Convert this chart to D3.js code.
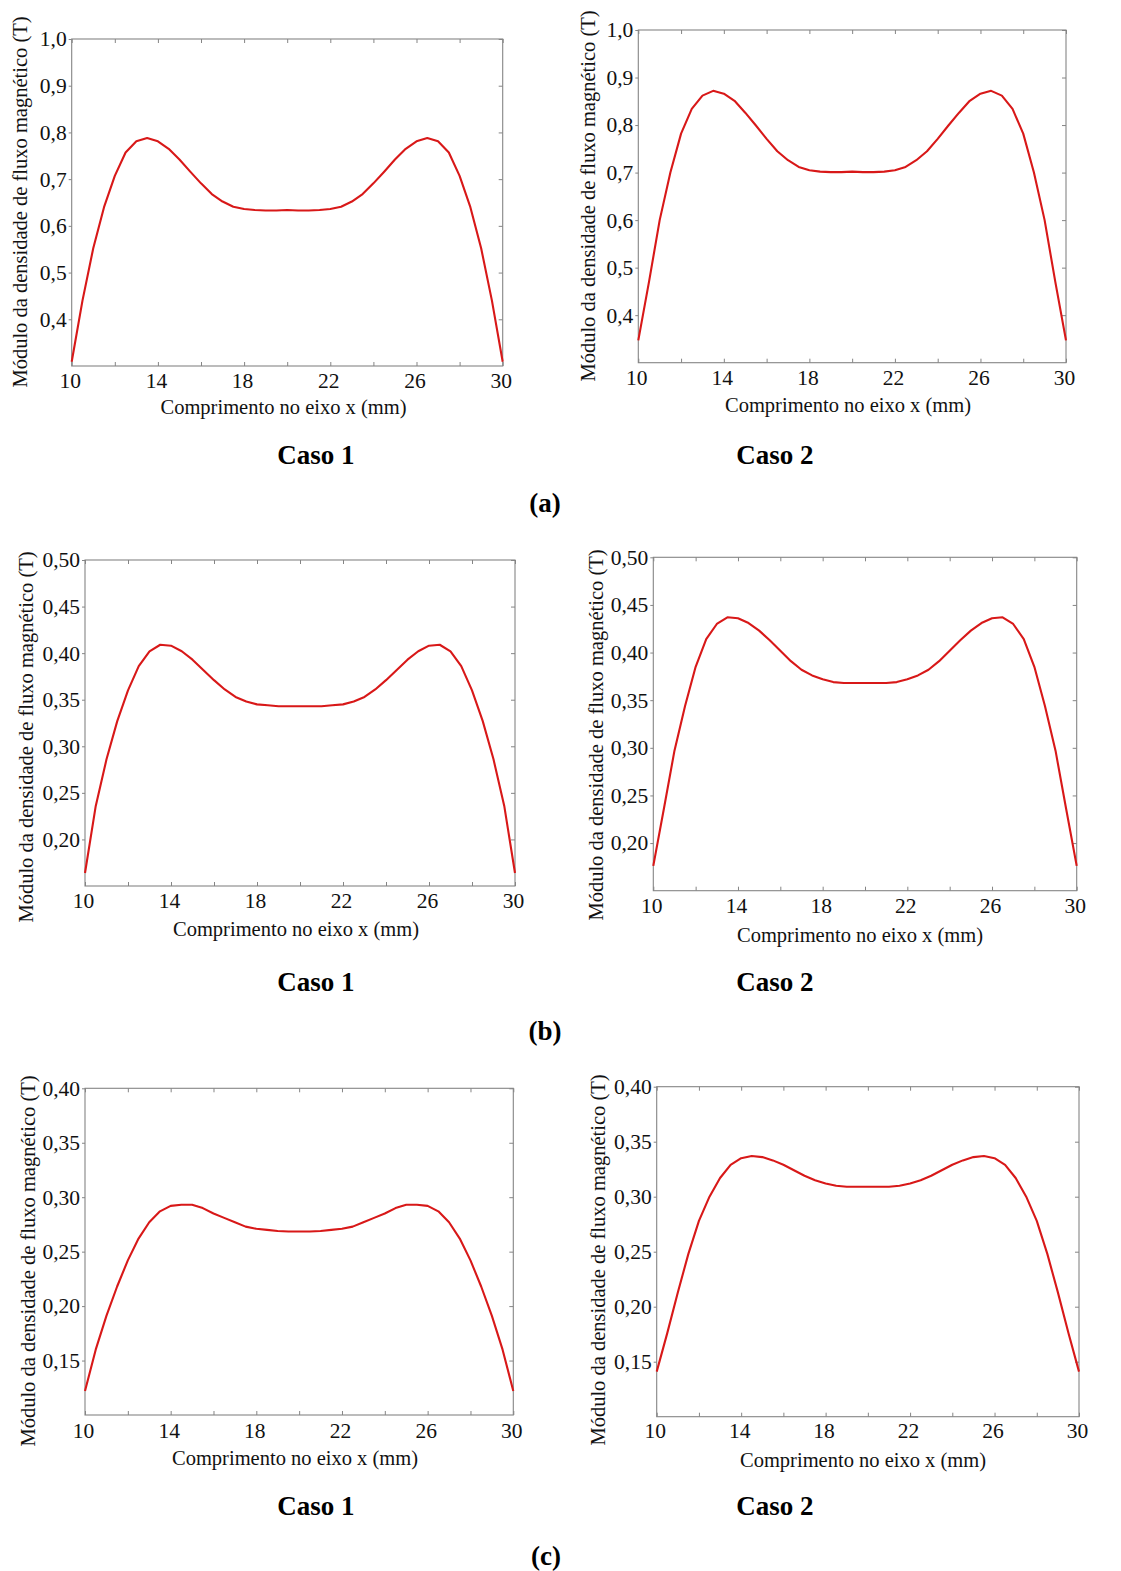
<!DOCTYPE html>
<html>
<head>
<meta charset="utf-8">
<script src="https://cdn.jsdelivr.net/npm/d3@7"></script>
<style>
  html, body { margin: 0; padding: 0; background: #fff; }
  svg { display: block; }
</style>
</head>
<body>
<svg id="fig" width="1121" height="1571"></svg>
<script>
// Position along the x axis (mm) where |B| was sampled
const positionMm = [10, 10.5, 11, 11.5, 12, 12.5, 13, 13.5, 14, 14.5, 15, 15.5, 16, 16.5, 17, 17.5, 18, 18.5, 19, 19.5,
  20, 20.5, 21, 21.5, 22, 22.5, 23, 23.5, 24, 24.5, 25, 25.5, 26, 26.5, 27, 27.5, 28, 28.5, 29, 29.5, 30];

// Magnetic flux density magnitude (T) — row (a)
const fluxA1 = [0.309, 0.440, 0.552, 0.640, 0.707, 0.757, 0.781, 0.788, 0.781, 0.765, 0.742, 0.716, 0.691, 0.668, 0.652, 0.641, 0.636, 0.634, 0.633, 0.633,
  0.634, 0.633, 0.633, 0.634, 0.636, 0.641, 0.652, 0.668, 0.691, 0.716, 0.742, 0.765, 0.781, 0.788, 0.781, 0.757, 0.707, 0.640, 0.552, 0.440, 0.309];
const fluxA2 = [0.347, 0.470, 0.600, 0.700, 0.782, 0.834, 0.862, 0.872, 0.866, 0.851, 0.826, 0.799, 0.771, 0.745, 0.726, 0.712, 0.705, 0.702, 0.701, 0.701,
  0.702, 0.701, 0.701, 0.702, 0.705, 0.712, 0.726, 0.745, 0.771, 0.799, 0.826, 0.851, 0.866, 0.872, 0.862, 0.834, 0.782, 0.700, 0.600, 0.470, 0.347];

// Row (b)
const fluxB1 = [0.164, 0.236, 0.286, 0.327, 0.360, 0.386, 0.402, 0.409, 0.408, 0.402, 0.393, 0.382, 0.371, 0.361, 0.353, 0.348, 0.345, 0.344, 0.343, 0.343,
  0.343, 0.343, 0.343, 0.344, 0.345, 0.348, 0.353, 0.361, 0.371, 0.382, 0.393, 0.402, 0.408, 0.409, 0.402, 0.386, 0.360, 0.327, 0.286, 0.236, 0.164];
const fluxB2 = [0.176, 0.236, 0.297, 0.344, 0.385, 0.414, 0.430, 0.437, 0.436, 0.431, 0.423, 0.413, 0.402, 0.391, 0.382, 0.376, 0.372, 0.369, 0.368, 0.368,
  0.368, 0.368, 0.368, 0.369, 0.372, 0.376, 0.382, 0.391, 0.402, 0.413, 0.423, 0.431, 0.436, 0.437, 0.430, 0.414, 0.385, 0.344, 0.297, 0.236, 0.176];

// Row (c)
const fluxC1 = [0.122, 0.160, 0.191, 0.218, 0.242, 0.262, 0.277, 0.287, 0.292, 0.293, 0.293, 0.290, 0.285, 0.281, 0.277, 0.273, 0.271, 0.270, 0.269, 0.2685,
  0.2685, 0.2685, 0.269, 0.270, 0.271, 0.273, 0.277, 0.281, 0.285, 0.290, 0.293, 0.293, 0.292, 0.287, 0.277, 0.262, 0.242, 0.218, 0.191, 0.160, 0.122];
const fluxC2 = [0.141, 0.176, 0.213, 0.248, 0.278, 0.300, 0.317, 0.329, 0.335, 0.337, 0.336, 0.333, 0.329, 0.324, 0.319, 0.315, 0.312, 0.310, 0.309, 0.309,
  0.309, 0.309, 0.309, 0.310, 0.312, 0.315, 0.319, 0.324, 0.329, 0.333, 0.336, 0.337, 0.335, 0.329, 0.317, 0.300, 0.278, 0.248, 0.213, 0.176, 0.141];

// Axis ticks
const xTickValues = [10, 12, 14, 16, 18, 20, 22, 24, 26, 28, 30];
const xTickLabels = [10, 14, 18, 22, 26, 30];
const yTicksA = [0.4, 0.5, 0.6, 0.7, 0.8, 0.9, 1.0];
const yTicksB = [0.20, 0.25, 0.30, 0.35, 0.40, 0.45, 0.50];
const yTicksC = [0.15, 0.20, 0.25, 0.30, 0.35, 0.40];

// Texts
const yAxisTitle = "Módulo da densidade de fluxo magnético (T)";
const xAxisTitle = "Comprimento no eixo x (mm)";
const caseNames = ["Caso 1", "Caso 2"];
const rowTags = ["(a)", "(b)", "(c)"];

const ptBR = d3.formatLocale({ decimal: ",", thousands: ".", grouping: [3], currency: ["R$", ""] });
const fmt1 = ptBR.format(".1f");
const fmt2 = ptBR.format(".2f");

// Layout of the six panels (plot box in page pixels)
const panels = [
  { values: fluxA1, yDomain: [0.3, 1.0], yTicks: yTicksA, fmt: fmt1,
    box: { l: 71.7, r: 502.7, t: 39, b: 366 }, tickBase: 388, xTitle: [283.5, 414], yTitle: [27, 202] },
  { values: fluxA2, yDomain: [0.3, 1.0], yTicks: yTicksA, fmt: fmt1,
    box: { l: 638.3, r: 1066, t: 30, b: 362.7 }, tickBase: 385, xTitle: [848, 412], yTitle: [595, 196] },
  { values: fluxB1, yDomain: [0.15, 0.5], yTicks: yTicksB, fmt: fmt2,
    box: { l: 85, r: 515, t: 560, b: 886 }, tickBase: 907.5, xTitle: [296, 936], yTitle: [33, 737] },
  { values: fluxB2, yDomain: [0.15, 0.5], yTicks: yTicksB, fmt: fmt2,
    box: { l: 653.3, r: 1076.7, t: 557.3, b: 890.7 }, tickBase: 913.5, xTitle: [860, 942], yTitle: [603, 735] },
  { values: fluxC1, yDomain: [0.1, 0.4], yTicks: yTicksC, fmt: fmt2,
    box: { l: 85, r: 513.3, t: 1088.3, b: 1415 }, tickBase: 1437.5, xTitle: [295, 1465], yTitle: [35, 1261] },
  { values: fluxC2, yDomain: [0.1, 0.4], yTicks: yTicksC, fmt: fmt2,
    box: { l: 656.7, r: 1079, t: 1086.7, b: 1416.7 }, tickBase: 1438.5, xTitle: [863, 1467], yTitle: [605, 1260] }
];

const SERIF = "'Liberation Serif', 'Times New Roman', serif";
const AXIS_GRAY = "#858585";
const CURVE_RED = "#d81818";
const TICK_FS = 21.5;

const svg = d3.select("#fig");

panels.forEach(p => {
  const { l, r, t, b } = p.box;
  const x = d3.scaleLinear().domain([10, 30]).range([l, r]);
  const y = d3.scaleLinear().domain(p.yDomain).range([b, t]);
  const g = svg.append("g");

  // Ticks on all four sides
  const labelSet = new Set(xTickLabels);
  const pad = p.tickBase - b - 0.71 * TICK_FS;
  const bottomAxis = g.append("g").attr("transform", `translate(0,${b})`)
    .call(d3.axisBottom(x).tickValues(xTickValues).tickSizeInner(-4).tickSizeOuter(0).tickPadding(pad)
      .tickFormat(d => labelSet.has(d) ? String(d) : ""));
  g.append("g").attr("transform", `translate(0,${t})`)
    .call(d3.axisTop(x).tickValues(xTickValues).tickSizeInner(-4).tickSizeOuter(0).tickFormat(""));
  g.append("g").attr("transform", `translate(${l},0)`)
    .call(d3.axisLeft(y).tickValues(p.yTicks).tickSizeInner(3).tickSizeOuter(0).tickPadding(2).tickFormat(p.fmt));
  g.append("g").attr("transform", `translate(${r},0)`)
    .call(d3.axisRight(y).tickValues(p.yTicks).tickSizeInner(-4).tickSizeOuter(0).tickFormat(""));

  g.selectAll(".domain").remove();
  g.selectAll(".tick line").attr("stroke", AXIS_GRAY).attr("stroke-width", 1);
  g.selectAll(".tick text")
    .attr("font-family", SERIF).attr("font-size", TICK_FS).attr("fill", "#111");
  bottomAxis.selectAll(".tick text").attr("dx", -2);

  // Plot frame
  g.append("rect")
    .attr("x", l).attr("y", t).attr("width", r - l).attr("height", b - t)
    .attr("fill", "none").attr("stroke", AXIS_GRAY).attr("stroke-width", 1.1);

  // |B| along the x axis
  const line = d3.line().x((d, i) => x(positionMm[i])).y(d => y(d)).curve(d3.curveLinear);
  g.append("path").datum(p.values)
    .attr("d", line)
    .attr("fill", "none").attr("stroke", CURVE_RED).attr("stroke-width", 2.1)
    .attr("stroke-linejoin", "round");

  // Axis titles
  g.append("text")
    .attr("x", p.xTitle[0]).attr("y", p.xTitle[1])
    .attr("text-anchor", "middle")
    .attr("font-family", SERIF).attr("font-size", 20.5).attr("fill", "#111")
    .text(xAxisTitle);
  g.append("text")
    .attr("transform", `translate(${p.yTitle[0]},${p.yTitle[1]}) rotate(-90)`)
    .attr("text-anchor", "middle")
    .attr("font-family", SERIF).attr("font-size", 20.5).attr("fill", "#111")
    .text(yAxisTitle);
});

// Case names under each column and row tags
const caseX = [316, 775];
const caseY = [464, 991, 1515];
const tagPos = [[545, 512], [545, 1040], [546, 1565]];

caseY.forEach((cy, row) => {
  caseNames.forEach((name, col) => {
    svg.append("text")
      .attr("x", caseX[col]).attr("y", cy)
      .attr("text-anchor", "middle")
      .attr("font-family", SERIF).attr("font-weight", "bold").attr("font-size", 27).attr("fill", "#000")
      .text(name);
  });
  svg.append("text")
    .attr("x", tagPos[row][0]).attr("y", tagPos[row][1])
    .attr("text-anchor", "middle")
    .attr("font-family", SERIF).attr("font-weight", "bold").attr("font-size", 27).attr("fill", "#000")
    .text(rowTags[row]);
});
</script>
</body>
</html>
